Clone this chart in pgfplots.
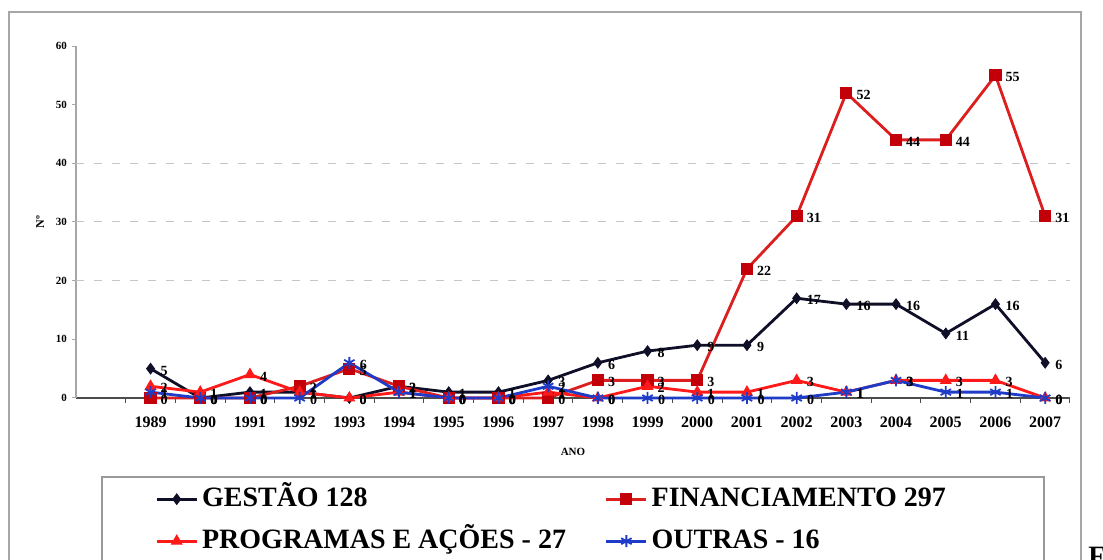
\documentclass[border=0pt]{standalone}
\usepackage{pgfplots}
\pgfplotsset{compat=1.18}
\usepackage{fontspec}
\setmainfont{Liberation Serif}
\definecolor{gest}{RGB}{15,15,40}
\definecolor{fin}{RGB}{220,30,30}
\definecolor{finmark}{RGB}{195,0,10}
\definecolor{prog}{RGB}{255,25,25}
\definecolor{outr}{RGB}{30,60,200}
\begin{document}
\begin{tikzpicture}
\useasboundingbox (0,0) rectangle (551.5pt,280pt);
\fill[white] (0,0) rectangle (551.5pt,280pt);
\draw[gray!70, line width=0.8pt] (4.5pt,-2pt) -- (4.5pt,274pt) -- (540.5pt,274pt) -- (540.5pt,-2pt);
\draw[gray!80, line width=0.8pt] (51pt,-2pt) -- (51pt,41.5pt) -- (522pt,41.5pt) -- (522pt,-2pt);
\node[anchor=south west, inner sep=0pt, font=\bfseries\fontsize{14}{14}\selectfont] at (544pt,-3pt) {F};
\begin{axis}[
  at={(38pt,81pt)}, anchor=south west,
  scale only axis, width=497pt, height=176pt,
  xmin=1987.5, xmax=2007.5, ymin=0, ymax=60,
  clip=false,
  axis x line*=bottom, axis y line*=left,
  x axis line style={draw=gray!60!black, line width=0.6pt},
  y axis line style={draw=gray!70, line width=0.6pt},
  xtick={1989,...,2007},
  major x tick style={draw=none},
  minor xtick={1988.5,1989.5,...,2007.5},
  minor x tick style={draw=gray!60!black, line width=0.5pt},
  minor tick length=2.5pt,
  ytick={0,10,...,60},
  y tick style={draw=gray!70, line width=0.5pt},
  major tick length=2pt,
  tick align=outside,
  /pgf/number format/assume math mode=true,
  /pgf/number format/set thousands separator={},
  x tick label style={font=\bfseries\fontsize{8}{8}\selectfont, yshift=-4pt},
  y tick label style={font=\bfseries\fontsize{5.5}{5.5}\selectfont, xshift=1pt},
  extra y ticks={20,30,40},
  extra y tick labels={},
  extra y tick style={grid=major, major tick length=0pt, grid style={dashed, gray!45, line width=0.5pt, dash pattern=on 4pt off 5pt}},
  xlabel={ANO},
  xlabel style={at={(axis description cs:0.5,-0.153)}, anchor=center, font=\bfseries\fontsize{5.5}{5.5}\selectfont},
  ylabel={Nº},
  ylabel style={at={(axis description cs:-0.036,0.5)}, anchor=center, rotate=0, font=\bfseries\fontsize{6}{6}\selectfont},
  legend style={draw=none, fill=none, inner sep=0pt,
    at={(axis description cs:0.0795,-0.2366)}, anchor=north west,
    font=\bfseries\fontsize{14}{14}\selectfont,
    nodes={text height=10.5pt, text depth=3pt},
    row sep=3.5pt,
    /tikz/every even column/.append style={column sep=17.5pt}},
  legend columns=2,
  legend cell align=left,
  legend image code/.code={\draw[mark repeat=2,mark phase=2] plot coordinates {(0cm,0cm) (0.35cm,0cm) (0.7cm,0cm)};},
  every axis plot/.append style={line width=1.4pt},
  nodes near coords={\pgfmathprintnumber[assume math mode=true]{\pgfplotspointmeta}},
  every node near coord/.append style={anchor=west, xshift=1.5pt, yshift=-1pt, text=black, font=\bfseries\fontsize{7}{7}\selectfont},
]
\addplot[color=gest, mark=diamond*, mark size=2.6pt, mark options={fill=gest, line width=0.5pt}] coordinates {
(1989,5) (1990,0) (1991,1) (1992,1) (1993,0) (1994,2) (1995,1) (1996,1) (1997,3) (1998,6)
(1999,8) (2000,9) (2001,9) (2002,17) (2003,16) (2004,16) (2005,11) (2006,16) (2007,6)};
\addlegendentry{GESTÃO 128}
\addplot[color=fin, mark=square*, mark size=2.8pt, mark options={fill=finmark, draw=finmark, line width=0.5pt}] coordinates {
(1989,0) (1990,0) (1991,0) (1992,2) (1993,5) (1994,2) (1995,0) (1996,0) (1997,0) (1998,3)
(1999,3) (2000,3) (2001,22) (2002,31) (2003,52) (2004,44) (2005,44) (2006,55) (2007,31)};
\addlegendentry{FINANCIAMENTO 297}
\addplot[color=prog, mark=triangle*, mark size=3pt, mark options={fill=prog, line width=0.5pt}] coordinates {
(1989,2) (1990,1) (1991,4) (1992,1) (1993,0) (1994,1) (1995,0) (1996,0) (1997,1) (1998,0)
(1999,2) (2000,1) (2001,1) (2002,3) (2003,1) (2004,3) (2005,3) (2006,3) (2007,0)};
\addlegendentry{PROGRAMAS E AÇÕES - 27}
\addplot[color=outr, mark=asterisk, mark size=3pt, mark options={line width=0.9pt}] coordinates {
(1989,1) (1990,0) (1991,0) (1992,0) (1993,6) (1994,1) (1995,0) (1996,0) (1997,2) (1998,0)
(1999,0) (2000,0) (2001,0) (2002,0) (2003,1) (2004,3) (2005,1) (2006,1) (2007,0)};
\addlegendentry{OUTRAS - 16}
\end{axis}
\end{tikzpicture}
\end{document}
